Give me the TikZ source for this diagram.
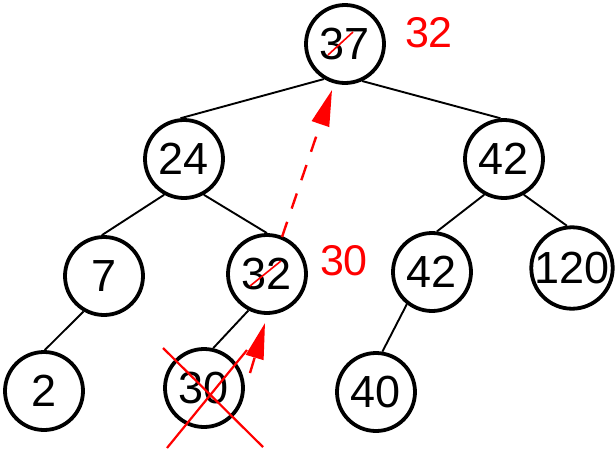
\documentclass[tikz,border=0pt]{standalone}
\usepackage{fontspec}
\setmainfont{Liberation Sans}
\usetikzlibrary{arrows.meta}
\begin{document}
\begin{tikzpicture}[x=1pt,y=-1pt,
  tnode/.style={circle,draw,line width=3.8pt,minimum size=78pt,inner sep=0pt,font=\fontsize{45}{45}\selectfont},
  tedge/.style={line width=1.9pt},
  redlab/.style={text=red,font=\fontsize{43}{43}\selectfont,inner sep=0pt},
  strike/.style={red,line width=1.6pt},
  cross/.style={red,line width=2.2pt},
  redarrow/.style={red,line width=2.4pt,dash pattern=on 16pt off 14pt,-{Triangle[length=36pt,width=18pt]}}]
\useasboundingbox (0,0) rectangle (616,453);
\node[tnode] (n37) at (345,44) {37};
\node[tnode] (n24) at (184,159) {24};
\node[tnode] (n42a) at (504,159) {42};
\node[tnode] (n7) at (104,276) {7};
\node[tnode] (n32) at (267,274) {32};
\node[tnode] (n42b) at (432,272) {42};
\node[tnode] (n120) at (572,268) {120};
\node[tnode] (n2) at (44,391) {2};
\node[tnode] (n30) at (204,388) {\raisebox{-3pt}{30}};
\node[tnode] (n40) at (376,392) {40};
\draw[tedge] (n37.239) -- (n24.95);
\draw[tedge] (n37.295) -- (n42a.95);
\draw[tedge] (n24.241) -- (n7.93);
\draw[tedge] (n24.299) -- (n32.90);
\draw[tedge] (n42a.241) -- (n42b.83);
\draw[tedge] (n42a.299) -- (n120.97);
\draw[tedge] (n7.240) -- (n2.89);
\draw[tedge] (n32.243) -- (n30.77);
\draw[tedge] (n42b.232) -- (n40.81);
\node[redlab] (l32) at (429,33) {32};
\node[redlab] (l30) at (344,261) {30};
\draw[strike] (328,55) -- (353,32);
\draw[strike] (250,286) -- (281,261);
\draw[cross] (163,348) -- (263,447);
\draw[cross] (167,448) -- (247,350);
\coordinate (a1s) at (282,237);
\coordinate (a1t) at (332,90);
\draw[redarrow] (a1s) -- (a1t);
\coordinate (a2s) at (250,373);
\coordinate (a2t) at (265,323);
\draw[redarrow] (a2s) -- (a2t);
\end{tikzpicture}
\end{document}
